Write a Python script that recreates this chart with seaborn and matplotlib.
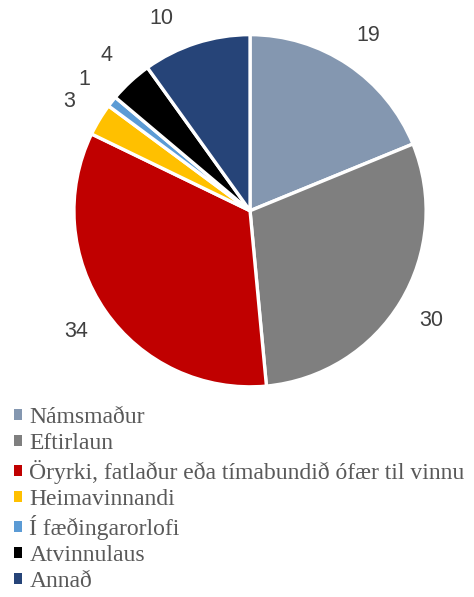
import matplotlib
matplotlib.use("Agg")
import matplotlib.pyplot as plt
import numpy as np
import seaborn as sns

categories = ["Námsmaður", "Eftirlaun", "Öryrki, fatlaður eða tímabundið ófær til vinnu",
              "Heimavinnandi", "Í fæðingarorlofi", "Atvinnulaus", "Annað"]
values = [19, 30, 34, 3, 1, 4, 10]
colors = ["#8497B0", "#7F7F7F", "#C00000", "#FFC000", "#5B9BD5", "#000000", "#264478"]

sns.set_style("white")
palette = sns.color_palette(colors)

fig = plt.figure(figsize=(4.74, 5.97), dpi=100)
ax = fig.add_axes([0.156, 0.352, 0.743, 0.590])

wedges, texts = ax.pie(values, labels=[str(v) for v in values], colors=palette,
                       startangle=90, counterclock=False, labeldistance=1.2,
                       wedgeprops=dict(edgecolor="white", linewidth=2.4),
                       textprops=dict(family="Liberation Sans", fontsize=15.5, color="#404040"))
for t in texts:
    t.set_ha("center")
    t.set_va("center")
# the last label sits a little further round, as in the original layout
x, y = texts[-1].get_position()
a = np.deg2rad(7)
texts[-1].set_position((x * np.cos(a) - y * np.sin(a), x * np.sin(a) + y * np.cos(a)))
ax.set_aspect("equal")
ax.set_xlim(-1.0, 1.0)
ax.set_ylim(-1.0, 1.0)

leg = fig.legend(wedges, categories, loc="upper left", bbox_to_anchor=(0.03, 0.318),
                 frameon=False, handlelength=0.34, handleheight=0.34, handletextpad=0.3,
                 labelspacing=0.22, borderaxespad=0, borderpad=0,
                 prop=dict(family="Liberation Serif", size=17))
for t in leg.get_texts():
    t.set_color("#595959")
for h in leg.legend_handles:
    h.set_edgecolor("none")

plt.savefig("out.png", dpi=100)
